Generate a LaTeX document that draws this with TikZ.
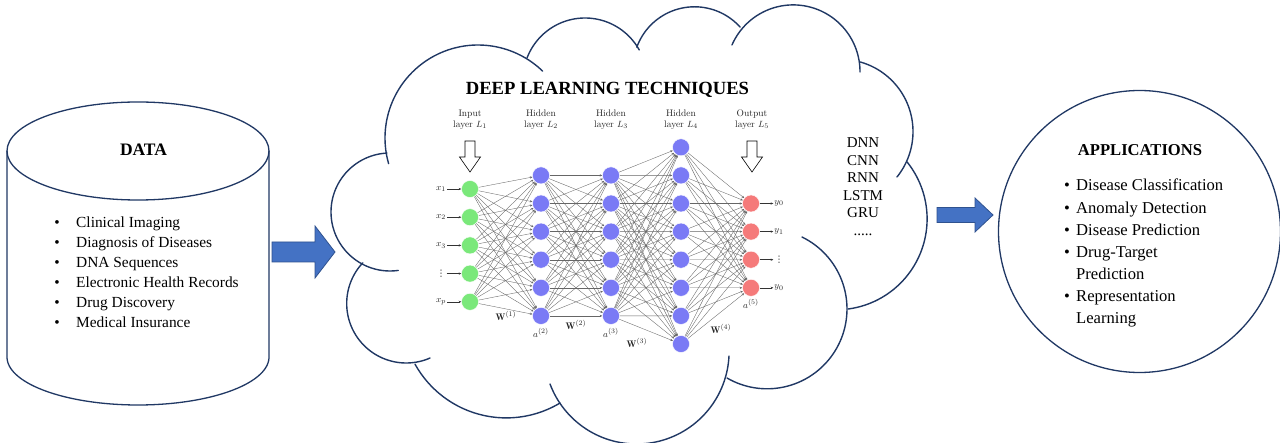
\documentclass[tikz,border=0pt]{standalone}
\usepackage{fontspec}
\newfontfamily\tnr{Liberation Serif}
\newfontfamily\dvs{DejaVu Sans}
\usetikzlibrary{arrows.meta,calc,backgrounds}
\definecolor{navy}{RGB}{32,56,100}
\definecolor{arrfill}{RGB}{68,114,196}
\definecolor{arrdraw}{RGB}{47,82,143}
\definecolor{ngreen}{RGB}{122,232,122}
\definecolor{nblue}{RGB}{122,122,245}
\definecolor{nred}{RGB}{245,122,122}
\newcommand{\vdotsglyph}{{\dvs\fontsize{9}{9}\selectfont ⋮}}
\begin{document}
\begin{tikzpicture}[x=1pt,y=-1pt,
  outline/.style={draw=navy,line width=1.3pt},
  cloudline/.style={draw=navy,line width=1.4pt,line cap=round},
  blockarrow/.style={fill=arrfill,draw=arrdraw,line width=0.8pt,line join=miter},
  hollowarrow/.style={draw=black,fill=white,line width=0.6pt,line join=miter},
  neuron/.style={circle,minimum size=17pt,inner sep=0pt,draw=white,line width=0.4pt},
  inneuron/.style={neuron,fill=ngreen},
  hidneuron/.style={neuron,fill=nblue},
  outneuron/.style={neuron,fill=nred},
  edge/.style={draw=black!60,line width=0.35pt,-{Stealth[length=2.6pt,width=2.2pt]}},
  smallarrow/.style={draw=black!80,line width=0.4pt,-{Stealth[length=2.6pt,width=2.2pt]}},
  nnlabel/.style={font=\fontsize{9.5}{11}\selectfont,text=black!85,inner sep=1pt,align=center},
  datatxt/.style={font=\tnr\fontsize{15.4}{18}\selectfont,inner sep=0pt,anchor=base west},
  databul/.style={font=\tnr\fontsize{15.4}{18}\selectfont,inner sep=0pt,anchor=base},
  apptxt/.style={font=\tnr\fontsize{16.6}{20}\selectfont,inner sep=0pt,anchor=base west},
  appbul/.style={font=\tnr\fontsize{16.6}{20}\selectfont,inner sep=0pt,anchor=base},
  modeltxt/.style={font=\tnr\fontsize{15}{18}\selectfont,inner sep=0pt,anchor=base},
  boldttl/.style={font=\tnr\bfseries\fontsize{#1}{#1}\selectfont,inner sep=0pt,anchor=base}
]
\useasboundingbox (0,0) rectangle (1280,443);
\begin{pgfonlayer}{background}
\fill[white] (0,0) rectangle (1280,443);
\end{pgfonlayer}

% ---------- DATA cylinder ----------
\coordinate (cyl) at (138,151);
\draw[outline] (cyl) ellipse [x radius=131pt, y radius=49pt];
\draw[outline] (7,151) -- plot[domain=180:0,samples=80] ({138+131*cos(\x)},{357+48*sin(\x)}) -- (269,151);
\node[boldttl=17.5] (datattl) at (143.5,156) {DATA};
\foreach \t [count=\k] in {Clinical Imaging,Diagnosis of Diseases,DNA Sequences,Electronic Health Records,Drug Discovery,Medical Insurance}{
  \node[databul] (db\k) at (57,{208+20*\k}) {•};
  \node[datatxt] (dt\k) at (76,{208+20*\k}) {\t};
}

% ---------- cloud ----------
\coordinate (cloud) at (635,220);
\foreach \lx/\ly/\rad/\angA/\angB in {390/212/59/82/267, 478/138/93/164/314, 585/80/62/201/331, 694.5/68.2/61.4/200/318, 793.2/71.7/66.8/203.6/360.3, 840.7/131.6/72.3/-74.5/38.9, 836.2/218.9/90.9/-38.8/82.5, 767.1/308.9/79.9/-64.1/120.1, 636.6/351.5/92.5/2.8/159.4, 506.3/313.5/104.4/59/151, 406.2/303.5/59.5/66.4/223.2}
  \draw[cloudline] plot[domain=\angA:\angB,samples=70] ({\lx+\rad*cos(\x)},{\ly+\rad*sin(\x)});

\node[boldttl=18.6] (dlttl) at (607.5,95) {DEEP LEARNING TECHNIQUES};

% ---------- block arrows ----------
\coordinate (dataR) at (272,252);
\coordinate (cloudL) at (335,252);
\draw[blockarrow] ($(dataR)+(0,-10)$) -- ($(cloudL)+(-20,-10)$) -- ($(cloudL)+(-20,-26)$) -- (cloudL) -- ($(cloudL)+(-20,26)$) -- ($(cloudL)+(-20,10)$) -- ($(dataR)+(0,10)$) -- cycle;
\coordinate (cloudR) at (937,215);
\coordinate (appL) at (993,215);
\draw[blockarrow] ($(cloudR)+(0,-7.5)$) -- ($(appL)+(-18,-7.5)$) -- ($(appL)+(-18,-17)$) -- (appL) -- ($(appL)+(-18,17)$) -- ($(appL)+(-18,7.5)$) -- ($(cloudR)+(0,7.5)$) -- cycle;

% ---------- applications circle ----------
\node[circle,outline,minimum size=282pt,inner sep=0pt] (apps) at (1139.5,231.5) {};
\node[boldttl=16.6] (appttl) at (1140,156) {APPLICATIONS};
\foreach \t/\hasb [count=\k] in {Disease Classification/1,Anomaly Detection/1,Disease Prediction/1,Drug-Target/1,Prediction/0,Representation/1,Learning/0}{
  \node[apptxt] (ap\k) at (1076,{191+22.05*(\k-1)}) {\t};
  \ifnum\hasb=1 \node[appbul] (apb\k) at (1067,{191+22.05*(\k-1)}) {•};\fi
}

% ---------- model list ----------
\foreach \t [count=\k] in {DNN,CNN,RNN,LSTM,GRU}
  \node[modeltxt] (m\k) at (863,{147.5+17.6*(\k-1)}) {\t};
\node[modeltxt] (m6) at (863,235.5) {.....};

% ---------- neural network ----------
\foreach \k in {1,...,5} \node[inneuron] (a\k) at (470,{189+28.2*(\k-1)}) {};
\foreach \k in {1,...,6} \node[hidneuron] (b\k) at (541,{175.4+28.1*(\k-1)}) {};
\foreach \k in {1,...,6} \node[hidneuron] (c\k) at (611,{175.4+28.1*(\k-1)}) {};
\foreach \k in {1,...,8} \node[hidneuron] (d\k) at (681,{147.3+28.1*(\k-1)}) {};
\foreach \k in {1,...,4} \node[outneuron] (o\k) at (751,{203.5+28.1*(\k-1)}) {};

\begin{pgfonlayer}{background}
\foreach \i in {1,...,5} \foreach \j in {1,...,6} \draw[edge] (a\i) -- (b\j);
\foreach \i in {1,...,6} \foreach \j in {1,...,6} \draw[edge] (b\i) -- (c\j);
\foreach \i in {1,...,6} \foreach \j in {1,...,8} \draw[edge] (c\i) -- (d\j);
\foreach \i in {1,...,8} \foreach \j in {1,...,4} \draw[edge] (d\i) -- (o\j);
\end{pgfonlayer}

\foreach \k/\t in {1/$x_1$,2/$x_2$,3/$x_3$,4/\vdotsglyph,5/$x_p$}{
  \node[nnlabel] (xl\k) at (441,{189+28.2*(\k-1)}) {\t};
  \draw[smallarrow] (xl\k) -- (a\k);
}
\foreach \k/\t in {1/$y_0$,2/$y_1$,3/\vdotsglyph,4/$y_0$}{
  \node[nnlabel] (yl\k) at (779,{203.5+28.1*(\k-1)}) {\t};
  \draw[smallarrow] (o\k) -- (yl\k);
}

\node[nnlabel] (l1) at (470,119.5) {Input\\layer $L_1$};
\node[nnlabel] (l2) at (541,119.5) {Hidden\\layer $L_2$};
\node[nnlabel] (l3) at (611,119.5) {Hidden\\layer $L_3$};
\node[nnlabel] (l4) at (681,119.5) {Hidden\\layer $L_4$};
\node[nnlabel] (l5) at (752,119.5) {Output\\layer $L_5$};

\draw[hollowarrow,shift={(470,141)}] (-5,0) -- (-5,16) -- (-10.5,16) -- (0,31) -- (10.5,16) -- (5,16) -- (5,0) -- cycle;
\draw[hollowarrow,shift={(752,141)}] (-5,0) -- (-5,16) -- (-10.5,16) -- (0,31) -- (10.5,16) -- (5,16) -- (5,0) -- cycle;

\node[nnlabel] (w1) at (506,316) {$\mathbf{W}^{(1)}$};
\node[nnlabel] (w2) at (576,325) {$\mathbf{W}^{(2)}$};
\node[nnlabel] (w3) at (637,343) {$\mathbf{W}^{(3)}$};
\node[nnlabel] (w4) at (721,329) {$\mathbf{W}^{(4)}$};
\node[nnlabel] (aa2) at (541,333) {$a^{(2)}$};
\node[nnlabel] (aa3) at (611,333) {$a^{(3)}$};
\node[nnlabel] (aa5) at (751,303.5) {$a^{(5)}$};
\end{tikzpicture}
\end{document}
